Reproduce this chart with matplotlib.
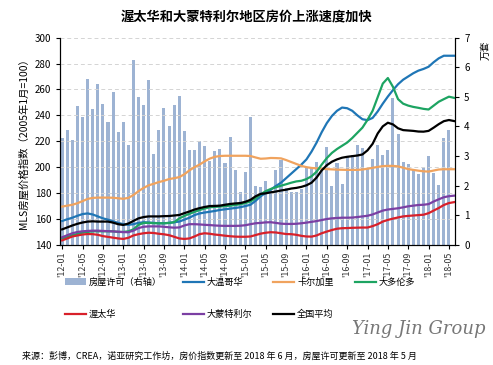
import numpy as np
import pandas as pd
import matplotlib
matplotlib.use("Agg")
import matplotlib.pyplot as plt

plt.rcParams['font.family'] = ['Noto Sans CJK SC', 'DejaVu Sans']

# monthly data, 2012-01 .. 2018-06
months = pd.date_range('2012-01-01', periods=78, freq='MS')

# housing permits (10k units), 2012-01 .. 2018-05
permits = [3.60, 3.88, 3.54, 4.69, 4.32, 5.60, 4.59, 5.43, 4.76, 4.15,
           5.16, 3.81, 4.16, 3.37, 6.24, 5.00, 4.73, 5.57, 3.07, 3.88,
           4.62, 4.02, 4.73, 5.03, 3.85, 3.21, 3.21, 3.51, 3.33, 2.84,
           3.17, 3.24, 2.77, 3.64, 2.53, 1.79, 2.47, 4.32, 1.99, 1.96,
           2.15, 1.85, 2.53, 2.87, 1.91, 1.79, 1.77, 1.88, 2.64, 2.59,
           2.79, 2.53, 3.30, 1.99, 2.78, 2.06, 3.00, 3.05, 3.37, 3.27,
           2.57, 2.90, 3.37, 3.04, 3.21, 4.96, 3.75, 2.79, 2.73, 2.55,
           2.39, 2.59, 3.00, 2.44, 2.01, 3.61, 3.88]

vancouver = [158.5, 159.8, 161.0, 162.5, 163.8, 164.3, 163.5, 162.0, 160.5, 159.5,
             158.2, 157.0, 156.0, 155.5, 156.0, 157.0, 157.5, 157.3, 157.0, 156.7,
             156.7, 157.0, 157.5, 158.0, 159.5, 161.0, 163.0, 164.3, 165.0, 165.6,
             166.2, 167.0, 167.5, 168.0, 168.5, 169.1, 170.0, 171.0, 174.0, 177.5,
             180.2, 182.7, 185.5, 188.0, 191.5, 195.0, 198.5, 202.0, 206.0, 212.0,
             219.0, 227.0, 234.0, 239.5, 243.5, 246.0, 245.5, 243.5, 240.0, 237.0,
             236.3, 238.0, 243.0, 249.0, 254.5, 259.5, 264.0, 267.5, 270.0, 272.5,
             274.5, 275.8, 277.5, 281.0, 284.0, 286.0, 286.0, 286.0]

calgary = [169.6, 170.3, 171.0, 172.2, 173.8, 175.5, 176.3, 176.5, 176.5, 176.5,
           176.4, 176.0, 175.6, 176.3, 178.5, 181.5, 184.0, 186.0, 187.2, 188.5,
           189.5, 190.8, 191.5, 192.3, 194.5, 197.5, 200.0, 202.0, 204.5, 206.6,
           208.0, 208.6, 208.8, 208.8, 208.8, 208.8, 208.8, 208.6, 207.5, 206.5,
           206.7, 207.1, 207.0, 206.8, 205.5, 204.0, 202.5, 201.0, 200.0, 199.4,
           199.1, 198.8, 198.5, 198.3, 198.1, 198.0, 197.9, 197.9, 197.9, 198.2,
           198.8, 199.5, 200.2, 200.8, 201.0, 201.0, 200.6, 199.6, 198.5, 197.9,
           197.3, 196.8, 196.6, 197.4, 198.2, 198.4, 198.4, 198.4]

toronto = [145.0, 146.0, 147.5, 148.5, 149.5, 150.0, 150.5, 150.5, 150.5, 150.5,
           150.5, 150.0, 150.0, 150.5, 152.0, 155.5, 157.0, 157.0, 156.8, 156.7,
           156.7, 157.0, 157.5, 160.4, 162.4, 164.0, 165.5, 166.9, 168.1, 169.1,
           169.4, 169.6, 170.0, 170.3, 170.8, 171.4, 172.3, 173.5, 176.0, 179.0,
           181.5, 183.2, 184.5, 185.7, 186.8, 188.0, 189.0, 189.5, 190.8, 193.0,
           196.5, 202.0, 207.0, 211.0, 214.0, 216.5, 219.0, 222.5, 226.5, 230.5,
           236.5, 243.5, 254.0, 264.5, 268.8, 262.0, 252.5, 249.0, 247.5, 246.5,
           245.8, 245.0, 244.5, 247.5, 250.5, 252.5, 254.4, 253.5]

ottawa = [143.5, 145.0, 146.5, 147.3, 148.0, 148.4, 148.3, 147.8, 146.8, 146.2,
          145.6, 145.0, 144.6, 145.5, 147.3, 148.3, 149.0, 149.4, 149.2, 148.6,
          148.2, 147.5, 146.3, 145.0, 144.6, 145.0, 146.5, 148.3, 149.0, 148.6,
          148.0, 147.6, 147.1, 146.7, 146.4, 146.3, 146.3, 146.5, 147.6, 148.7,
          149.4, 149.8, 149.6, 149.0, 148.4, 148.3, 147.8, 147.0, 146.5, 146.4,
          147.3, 149.0, 150.3, 151.5, 152.5, 152.9, 153.0, 153.2, 153.3, 153.4,
          153.4, 154.5, 156.0, 158.0, 159.3, 160.3, 161.2, 162.0, 162.4, 162.7,
          163.0, 163.3, 164.5, 166.5, 168.5, 170.8, 172.3, 173.0]

montreal = [145.9, 147.5, 149.0, 150.0, 150.5, 150.8, 151.0, 151.0, 150.8, 150.6,
            150.4, 150.2, 149.9, 149.8, 151.0, 153.0, 154.0, 154.3, 154.3, 154.3,
            154.0, 153.6, 153.3, 153.5, 155.0, 156.0, 156.0, 155.8, 155.5, 155.3,
            155.0, 154.8, 154.7, 154.7, 154.7, 154.8, 155.2, 156.0, 156.7, 157.0,
            157.4, 157.5, 157.0, 156.4, 156.2, 156.2, 156.3, 156.7, 157.2, 157.8,
            158.4, 159.2, 160.0, 160.5, 160.8, 161.0, 161.0, 161.1, 161.5, 162.0,
            162.5, 163.5, 165.0, 166.5, 167.3, 167.8, 168.3, 169.0, 169.8, 170.3,
            170.8, 171.0, 171.5, 173.5, 175.2, 176.8, 177.6, 178.0]

national = [152.0, 153.5, 155.0, 156.3, 157.3, 158.0, 158.2, 158.0, 158.0, 158.0,
            157.2, 156.0, 155.4, 156.5, 158.5, 160.5, 161.5, 162.0, 162.0, 162.0,
            162.2, 162.3, 162.7, 163.1, 164.5, 165.8, 167.3, 168.4, 169.3, 170.0,
            170.1, 170.3, 171.0, 171.6, 172.0, 172.3, 173.3, 174.8, 177.5, 179.4,
            179.8, 180.6, 181.2, 182.0, 182.6, 183.5, 184.0, 184.8, 186.0, 188.0,
            192.0, 197.5, 201.5, 204.2, 206.0, 207.3, 208.0, 208.5, 209.0, 209.8,
            213.0, 218.0, 226.0, 231.5, 234.3, 233.0, 230.0, 228.6, 228.3, 228.0,
            227.5, 227.4, 228.0, 230.5, 233.2, 235.5, 236.4, 235.6]

tick_labels = ["'12-01", "'12-05", "'12-09", "'13-01", "'13-05", "'13-09",
               "'14-01", "'14-05", "'14-09", "'15-01", "'15-05", "'15-09",
               "'16-01", "'16-05", "'16-09", "'17-01", "'17-05", "'17-09",
               "'18-01", "'18-05"]

x = np.arange(len(months))

fig = plt.figure(figsize=(4.93, 3.65), dpi=100)
ax = fig.add_axes([0.122, 0.329, 0.801, 0.568])
ax2 = ax.twinx()

bars = ax2.bar(x[:len(permits)], permits, width=0.6, color='#9db3d3',
               label='房屋许可（右轴）', zorder=1)
ax2.set_ylim(0, 7)
ax2.set_yticks(range(8))
ax2.set_ylabel('万套', fontsize=7, rotation=90)
ax2.yaxis.set_label_coords(1.065, 0.94)

ax.set_zorder(ax2.get_zorder() + 1)
ax.patch.set_visible(False)

l1, = ax.plot(x, vancouver, color='#1f76b6', lw=1.6, label='大温哥华')
l2, = ax.plot(x, calgary, color='#f0a35e', lw=1.6, label='卡尔加里')
l3, = ax.plot(x, toronto, color='#1da462', lw=1.6, label='大多伦多')
l4, = ax.plot(x, ottawa, color='#d8202a', lw=1.6, label='渥太华')
l5, = ax.plot(x, montreal, color='#7b3fa3', lw=1.6, label='大蒙特利尔')
l6, = ax.plot(x, national, color='black', lw=1.6, label='全国平均')

ax.set_ylim(140, 300)
ax.set_yticks(range(140, 301, 20))
ax.set_xlim(-0.4, 77.2)
ax.set_xticks(x[::4][:len(tick_labels)])
ax.set_xticklabels(tick_labels, rotation=90)
ax.set_ylabel('MLS房屋价格指数（2005年1月=100）', fontsize=7.5)
ax.yaxis.grid(True, linestyle=(0, (4, 3)), color='#d4d4d4', lw=0.7)
ax.set_axisbelow(True)

for a in (ax, ax2):
    a.spines['top'].set_visible(False)
    a.tick_params(labelsize=7, length=3, width=0.8)
ax.tick_params(axis='x', length=3, pad=2, labelsize=6.4, labelcolor='#333333')

fig.suptitle('渥太华和大蒙特利尔地区房价上涨速度加快', fontsize=9.5,
             fontweight='bold', y=0.975)

handles = [bars, l4, l1, l5, l2, l6, l3]
fig.legend(handles=handles, labels=[h.get_label() for h in handles],
           loc='upper left', bbox_to_anchor=(0.115, 0.262), ncol=4,
           frameon=False, fontsize=6.6, handlelength=2.3, handletextpad=0.3,
           columnspacing=2.3, labelspacing=2.5)

fig.text(0.985, 0.085, 'Ying Jin Group', fontsize=13, family='DejaVu Serif',
         style='italic', color='#777777', ha='right')
fig.text(0.045, 0.018, '来源：彭博，CREA，诺亚研究工作坊，房价指数更新至 2018 年 6 月，房屋许可更新至 2018 年 5 月',
         fontsize=6.5)

fig.savefig('out.png', dpi=100)
